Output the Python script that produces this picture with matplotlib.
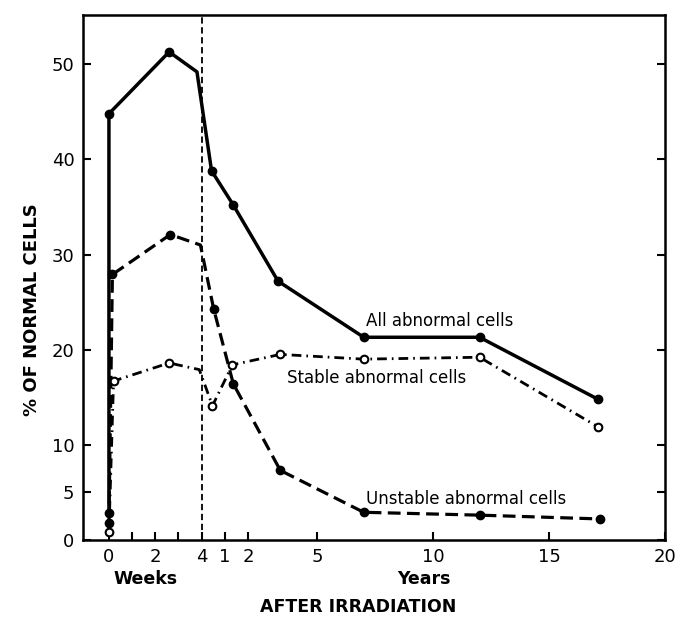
import numpy as np
import matplotlib
matplotlib.use('Agg')
import matplotlib.pyplot as plt

# time is in years; the first 4 weeks are stretched out on the axis
WEEK = 1 / 52

# all abnormal cells
all_weeks = [0, 0, 2.6, 3.8]
all_week_vals = [2.8, 44.8, 51.3, 49.2]
all_years = [0.43, 1.37, 3.3, 7.0, 12.0, 17.1]
all_year_vals = [38.8, 35.2, 27.2, 21.3, 21.3, 14.8]

# unstable abnormal cells
unstable_weeks = [0, 0.15, 2.65, 3.95]
unstable_week_vals = [1.8, 27.9, 32.1, 31.0]
unstable_years = [0.52, 1.37, 3.4, 7.0, 12.0, 17.2]
unstable_year_vals = [24.3, 16.4, 7.3, 2.9, 2.6, 2.2]

# stable abnormal cells
stable_weeks = [0, 0.2, 2.6, 3.9]
stable_week_vals = [0.8, 16.7, 18.6, 17.9]
stable_years = [0.47, 1.33, 3.4, 7.0, 12.0, 17.1]
stable_year_vals = [14.1, 18.4, 19.5, 19.0, 19.2, 11.9]

week_ticks = [0, 1, 2, 3, 4]
week_labels = ['0', '', '2', '', '4']
year_ticks = [1, 2, 5, 10, 15, 20]
year_labels = ['1', '2', '5', '10', '15', '20']
y_ticks = [0, 5, 10, 20, 30, 40, 50]


def forward(t):
    t = np.asarray(t, dtype=float)
    return np.where(t <= 4 * WEEK + 1e-9, t * 52, t + 4)


def inverse(x):
    x = np.asarray(x, dtype=float)
    return np.where(x <= 4, x / 52, x - 4)


def series(weeks, week_vals, years, year_vals):
    t = [w * WEEK for w in weeks] + list(years)
    return t, list(week_vals) + list(year_vals)


plt.rcParams['font.family'] = ['DejaVu Sans']

fig = plt.figure(figsize=(6.84, 6.17), dpi=100)
ax = fig.add_axes([0.121, 0.125, 0.851, 0.851])
ax.set_xscale('function', functions=(forward, inverse))

marks = [0, 1, 2, 4, 5, 6, 7, 8, 9]

t, v = series(all_weeks, all_week_vals, all_years, all_year_vals)
ax.plot(t, v, color='black', lw=2.5, marker='o', ms=6, markevery=marks,
        solid_joinstyle='round')

t, v = series(unstable_weeks, unstable_week_vals, unstable_years, unstable_year_vals)
ax.plot(t, v, color='black', lw=2.3, dashes=(4, 2), marker='o', ms=6,
        markevery=marks)

t, v = series(stable_weeks, stable_week_vals, stable_years, stable_year_vals)
ax.plot(t, v, color='black', lw=2.0, dashes=(3.5, 1.8, 0.6, 1.8), marker='o',
        ms=5.5, mfc='white', mec='black', mew=1.5, markevery=marks)

ax.axvline(4 * WEEK, color='black', lw=1.3, dashes=(3.5, 2))

ax.set_xlim(-1.13 * WEEK, 20)
ax.set_ylim(0, 55.2)

ax.set_xticks([w * WEEK for w in week_ticks] + year_ticks)
ax.set_xticklabels(week_labels + year_labels)
ax.set_yticks(y_ticks)
ax.tick_params(direction='in', length=6, width=1.5, labelsize=13, pad=6)
ax.tick_params(axis='y', right=True)
for s in ax.spines.values():
    s.set_linewidth(1.8)

ax.text(7.1, 23.0, 'All abnormal cells', fontsize=12, va='center', ha='left')
ax.text(3.7, 17.05, 'Stable abnormal cells', fontsize=12, va='center', ha='left')
ax.text(7.1, 4.3, 'Unstable abnormal cells', fontsize=12, va='center', ha='left')

fig.text(146 / 684, 1 - 579 / 617, 'Weeks', fontsize=12.5, ha='center',
         va='center', fontweight='bold')
fig.text(424 / 684, 1 - 579 / 617, 'Years', fontsize=12.5, ha='center',
         va='center', fontweight='bold')
fig.text(358 / 684, 1 - 607 / 617, 'AFTER IRRADIATION', fontsize=12.5,
         ha='center', va='center', fontweight='bold')
fig.text(32 / 684, 1 - 310 / 617, '% OF NORMAL CELLS', fontsize=13,
         rotation=90, ha='center', va='center', fontweight='bold')

fig.savefig('out.png', dpi=100)
